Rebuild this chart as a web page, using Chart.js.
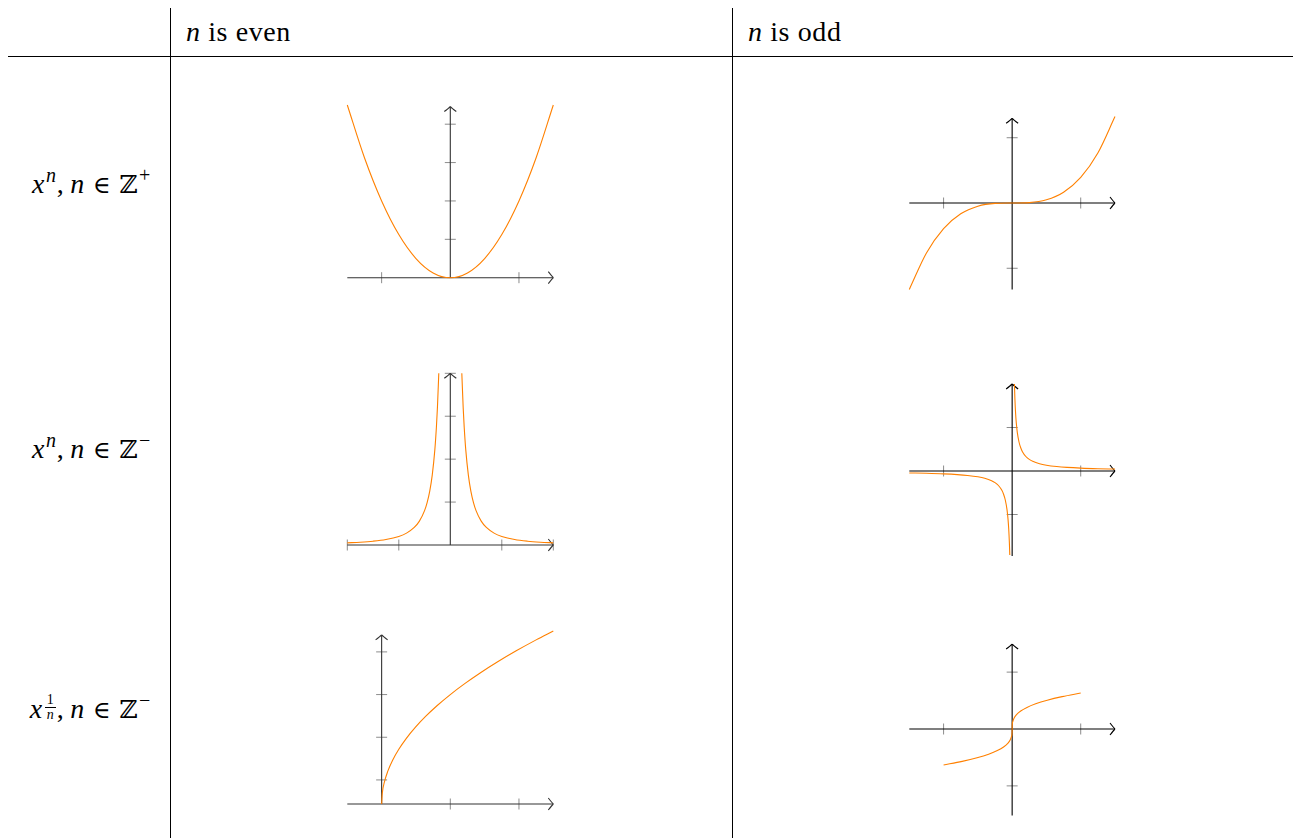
<!DOCTYPE html>
<html><head><meta charset="utf-8">
<style>
html,body{margin:0;padding:0;background:#fff;}
body{width:1293px;height:838px;overflow:hidden;position:relative;color:#000;}
.rule{position:absolute;background:#000;}
.txt{position:absolute;font-size:28px;line-height:30px;white-space:nowrap;letter-spacing:0.6px;}
.sup{font-size:20px;position:relative;top:-11px;margin-left:1px;}
.rel{margin:0 8px;font-size:24px;}
.bb{font-size:25px;}
.comma{margin-right:6px;}
.frac{display:inline-flex;flex-direction:column;align-items:center;font-size:14px;line-height:12px;vertical-align:14px;margin-left:2px;margin-right:1px;letter-spacing:0;}
.frac .num{border-bottom:1px solid #000;padding:0 2px 1px 2px;}
.frac .den{padding-top:1px;}
canvas{position:absolute;}
</style></head><body>
<div class="rule" style="left:170px;top:8px;width:1px;height:830px"></div>
<div class="rule" style="left:732px;top:8px;width:1px;height:830px"></div>
<div class="rule" style="left:8px;top:56px;width:1285px;height:1px"></div>
<div class="txt" style="left:186px;top:17px;font-family:'Liberation Serif'"><i style="font-family:'Liberation Serif'">n</i> is even</div>
<div class="txt" style="left:748px;top:17px;font-family:'Liberation Serif'"><i style="font-family:'Liberation Serif'">n</i> is odd</div>
<div class="txt" style="right:1142px;top:169px;font-family:'Liberation Serif'"><i style="font-family:'Liberation Serif'">x</i><span class="sup"><i style="font-family:'Liberation Serif'">n</i></span><span class="comma">,</span><i style="font-family:'Liberation Serif'">n</i><span class="rel" style="font-family:'DejaVu Serif'">∈</span><span class="bb" style="font-family:'DejaVu Serif'">ℤ</span><span class="sup">+</span></div>
<div class="txt" style="right:1142px;top:434px;font-family:'Liberation Serif'"><i style="font-family:'Liberation Serif'">x</i><span class="sup"><i style="font-family:'Liberation Serif'">n</i></span><span class="comma">,</span><i style="font-family:'Liberation Serif'">n</i><span class="rel" style="font-family:'DejaVu Serif'">∈</span><span class="bb" style="font-family:'DejaVu Serif'">ℤ</span><span class="sup">−</span></div>
<div class="txt" style="right:1142px;top:694px;font-family:'Liberation Serif'"><i style="font-family:'Liberation Serif'">x</i><span class="frac"><span class="num">1</span><span class="den"><i style="font-family:'Liberation Serif'">n</i></span></span><span class="comma">,</span><i style="font-family:'Liberation Serif'">n</i><span class="rel" style="font-family:'DejaVu Serif'">∈</span><span class="bb" style="font-family:'DejaVu Serif'">ℤ</span><span class="sup">−</span></div>
<script src="https://cdn.jsdelivr.net/npm/chart.js@4.4.1/dist/chart.umd.min.js"></script>
<script>
// ---- categories ----
const columnCategories = ['n is even', 'n is odd'];
const rowCategories = ['x^n, n ∈ ℤ+', 'x^n, n ∈ ℤ−', 'x^(1/n), n ∈ ℤ−'];

// ---- series values ----
// x^n, n even, positive (x^2)
const sqX = [-1.5,-1.25,-1,-0.75,-0.5,-0.25,0,0.25,0.5,0.75,1,1.25,1.5];
const sqY = [2.25,1.5625,1,0.5625,0.25,0.0625,0,0.0625,0.25,0.5625,1,1.5625,2.25];
// x^n, n odd, positive (x^3)
const cubeX = [-1.5,-1.25,-1,-0.75,-0.5,-0.25,0,0.25,0.5,0.75,1,1.25,1.5];
const cubeY = [-3.375,-1.953,-1,-0.422,-0.125,-0.016,0,0.016,0.125,0.422,1,1.953,3.375];
// x^n, n even, negative (x^-2)
const invSqLeftX = [-2,-1.75,-1.5,-1.25,-1,-0.85,-0.7,-0.6,-0.5,-0.45,-0.4,-0.35,-0.3,-0.27,-0.25,-0.2236];
const invSqLeftY = [0.25,0.327,0.444,0.64,1,1.384,2.041,2.778,4,4.938,6.25,8.163,11.11,13.72,16,20];
const invSqRightX = [0.2236,0.25,0.27,0.3,0.35,0.4,0.45,0.5,0.6,0.7,0.85,1,1.25,1.5,1.75,2];
const invSqRightY = [20,16,13.72,11.11,8.163,6.25,4.938,4,2.778,2.041,1.384,1,0.64,0.444,0.327,0.25];
// x^n, n odd, negative (x^-1)
const invLeftX = [-1.5,-1.25,-1,-0.8,-0.65,-0.5,-0.4,-0.3,-0.25,-0.2,-0.15,-0.125,-0.1,-0.075,-0.06,-0.05,-0.04,-0.0345];
const invLeftY = [-0.667,-0.8,-1,-1.25,-1.538,-2,-2.5,-3.333,-4,-5,-6.667,-8,-10,-13.33,-16.67,-20,-25,-29];
const invRightX = [0.0333,0.04,0.05,0.06,0.075,0.1,0.125,0.15,0.2,0.25,0.3,0.4,0.5,0.65,0.8,1,1.25,1.5];
const invRightY = [30,25,20,16.67,13.33,10,8,6.667,5,4,3.333,2.5,2,1.538,1.25,1,0.8,0.667];
// x^(1/n), n even (square root)
const rootX = [0,0.01,0.04,0.09,0.16,0.25,0.36,0.49,0.64,0.81,1,1.21,1.44,1.69,1.96,2.25,2.5];
const rootY = [0,0.1,0.2,0.3,0.4,0.5,0.6,0.7,0.8,0.9,1,1.1,1.2,1.3,1.4,1.5,1.581];
// x^(1/n), n odd (cube root)
const cbrtX = [-1,-0.729,-0.512,-0.343,-0.216,-0.125,-0.064,-0.027,-0.008,-0.001,0,0.001,0.008,0.027,0.064,0.125,0.216,0.343,0.512,0.729,1];
const cbrtY = [-1,-0.9,-0.8,-0.7,-0.6,-0.5,-0.4,-0.3,-0.2,-0.1,0,0.1,0.2,0.3,0.4,0.5,0.6,0.7,0.8,0.9,1];

// ---- tick values ----
const ticksX1 = [-1,1],        ticksY1 = [0.5,1,1.5,2];
const ticksX2 = [-1,1],        ticksY2 = [-2.55,2.55];
const ticksX3 = [-2,-1,1,2],   ticksY3 = [5,10,15,20];
const ticksX4 = [-1,1],        ticksY4 = [-15,15];
const ticksX5 = [1,2],         ticksY5 = [0.22,0.61,1.0,1.39];
const ticksX6 = [-1,1],        ticksY6 = [-1.58,1.58];

// ---- axis ranges ----
const rangeX1 = [-1.5,1.5], rangeY1 = [0,2.25],      axisY1 = [0,2.23];
const rangeX2 = [-1.5,1.5], rangeY2 = [-3.375,3.375], axisY2 = [-3.375,3.31];
const rangeX3 = [-2,2],     rangeY3 = [0,20],        axisY3 = [0,20];
const rangeX4 = [-1.5,1.5], rangeY4 = [-30,30],      axisY4 = [-29.3,30];
const rangeX5 = [-0.5,2.5], rangeY5 = [0,1.581],     axisY5 = [0,1.545];
const rangeX6 = [-1.5,1.5], rangeY6 = [-2.4,2.4],    axisY6 = [-2.4,2.36];

// ---- charts ----
const ORANGE = '#ff8000';
function makePlot(box, rx, ry, series, axisX, axisY, tx, ty, axisColor) {
  const pad = 12;
  const cl = Math.floor(box.l) - pad, ct = Math.floor(box.t) - pad;
  const cr = Math.ceil(box.r) + pad, cb = Math.ceil(box.b) + pad;
  const cv = document.createElement('canvas');
  cv.width = cr - cl; cv.height = cb - ct;
  cv.style.left = cl + 'px'; cv.style.top = ct + 'px';
  cv.style.width = (cr - cl) + 'px'; cv.style.height = (cb - ct) + 'px';
  document.body.appendChild(cv);
  const axesPlugin = {
    id: 'axesThroughOrigin',
    beforeDatasetsDraw(chart) {
      const ctx = chart.ctx, sx = chart.scales.x, sy = chart.scales.y;
      const y0 = sy.getPixelForValue(0), x0 = sx.getPixelForValue(0);
      ctx.save();
      ctx.strokeStyle = '#8c8c8c'; ctx.lineWidth = 1;
      ctx.beginPath();
      tx.forEach(v => { const p = sx.getPixelForValue(v); ctx.moveTo(p, y0 - 5.5); ctx.lineTo(p, y0 + 5.5); });
      ty.forEach(v => { const p = sy.getPixelForValue(v); ctx.moveTo(x0 - 5.5, p); ctx.lineTo(x0 + 5.5, p); });
      ctx.stroke();
      ctx.strokeStyle = axisColor; ctx.lineWidth = 1.1;
      const xa = sx.getPixelForValue(axisX[0]), xb = sx.getPixelForValue(axisX[1]);
      const ya = sy.getPixelForValue(axisY[0]), yb = sy.getPixelForValue(axisY[1]);
      ctx.beginPath();
      ctx.moveTo(xa, y0); ctx.lineTo(xb, y0);
      ctx.moveTo(x0, ya); ctx.lineTo(x0, yb);
      ctx.stroke();
      ctx.beginPath();
      ctx.moveTo(xb - 5, y0 - 6); ctx.quadraticCurveTo(xb - 1.5, y0 - 1.5, xb, y0);
      ctx.moveTo(xb - 5, y0 + 6); ctx.quadraticCurveTo(xb - 1.5, y0 + 1.5, xb, y0);
      ctx.moveTo(x0 - 6, yb + 5); ctx.quadraticCurveTo(x0 - 1.5, yb + 1.5, x0, yb);
      ctx.moveTo(x0 + 6, yb + 5); ctx.quadraticCurveTo(x0 + 1.5, yb + 1.5, x0, yb);
      ctx.stroke();
      ctx.restore();
    }
  };
  new Chart(cv, {
    type: 'scatter',
    data: {
      datasets: series.map(s => ({
        data: s[0].map((x, i) => ({x: x, y: s[1][i]})),
        showLine: true, borderColor: ORANGE, backgroundColor: ORANGE,
        borderWidth: 1.1, pointRadius: 0, pointHoverRadius: 0,
        cubicInterpolationMode: 'monotone', tension: 0.4, clip: false
      }))
    },
    options: {
      responsive: false, animation: false, devicePixelRatio: 1, events: [],
      layout: {padding: {left: box.l - cl, right: cr - box.r, top: box.t - ct, bottom: cb - box.b}},
      plugins: {legend: {display: false}, tooltip: {enabled: false}, title: {display: false}},
      scales: {
        x: {type: 'linear', min: rx[0], max: rx[1], display: false},
        y: {type: 'linear', min: ry[0], max: ry[1], display: false}
      }
    },
    plugins: [axesPlugin]
  });
}

makePlot({l:347.3, r:553.3, t:105,   b:277.7}, rangeX1, rangeY1, [[sqX, sqY]], rangeX1, axisY1, ticksX1, ticksY1, '#333');
makePlot({l:909.3, r:1115,  t:116.6, b:289.4}, rangeX2, rangeY2, [[cubeX, cubeY]], rangeX2, axisY2, ticksX2, ticksY2, '#000');
makePlot({l:347.3, r:553.3, t:373.3, b:545},   rangeX3, rangeY3, [[invSqLeftX, invSqLeftY],[invSqRightX, invSqRightY]], rangeX3, axisY3, ticksX3, ticksY3, '#333');
makePlot({l:909.3, r:1115,  t:384,   b:558},   rangeX4, rangeY4, [[invLeftX, invLeftY],[invRightX, invRightY]], rangeX4, axisY4, ticksX4, ticksY4, '#000');
makePlot({l:347.3, r:553.3, t:631,   b:804},   rangeX5, rangeY5, [[rootX, rootY]], rangeX5, axisY5, ticksX5, ticksY5, '#333');
makePlot({l:909.3, r:1115,  t:642.6, b:815.4}, rangeX6, rangeY6, [[cbrtX, cbrtY]], rangeX6, axisY6, ticksX6, ticksY6, '#000');
</script>
</body></html>
